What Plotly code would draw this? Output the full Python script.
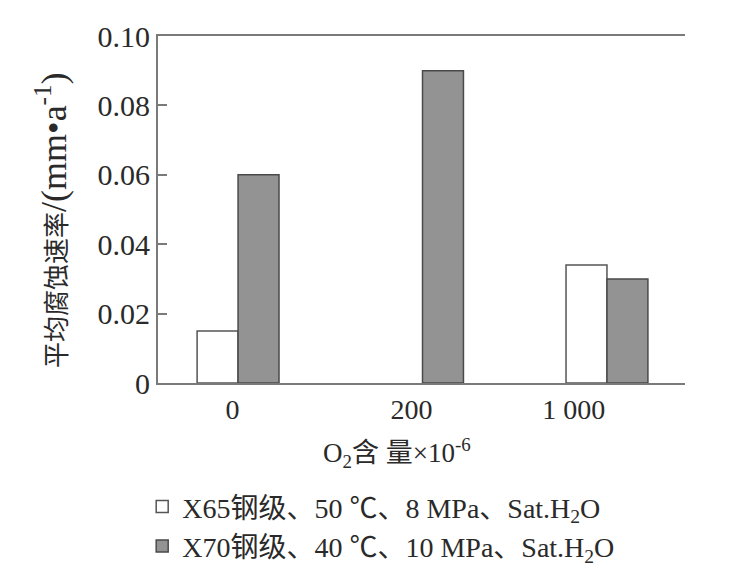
import plotly.graph_objects as go

categories = ["0", "200", "1 000"]
x65_values = [0.015, None, 0.034]
x70_values = [0.060, 0.090, 0.030]
series_names = ["X65钢级、50 ℃、8 MPa、Sat.H<sub>2</sub>O",
                "X70钢级、40 ℃、10 MPa、Sat.H<sub>2</sub>O"]
y_tick_vals = [0, 0.02, 0.04, 0.06, 0.08, 0.10]
y_tick_text = ["0", "0.02", "0.04", "0.06", "0.08", "0.10"]

x_idx = list(range(len(categories)))
FONT = "Liberation Serif, Noto Sans CJK SC, serif"
TXT = "#2a2a2a"

fig = go.Figure()
fig.add_trace(go.Bar(x=x_idx, y=x65_values, name=series_names[0],
                     marker=dict(color="white", line=dict(color="#555555", width=1.5))))
fig.add_trace(go.Bar(x=x_idx, y=x70_values, name=series_names[1],
                     marker=dict(color="#939393", line=dict(color="#4a4a4a", width=1.5))))

fig.update_layout(
    width=732, height=575,
    margin=dict(l=150, r=55, t=22, b=198),
    paper_bgcolor="white", plot_bgcolor="white",
    barmode="group", bargap=0.556, bargroupgap=0,
    font=dict(family=FONT, size=26, color=TXT),
    showlegend=True,
    legend=dict(x=-0.03, y=-0.285, xanchor="left", yanchor="top",
                font=dict(family=FONT, size=28, color=TXT),
                bgcolor="rgba(0,0,0,0)", tracegroupgap=0, itemwidth=30),
)
fig.update_xaxes(
    range=[-0.434, 2.423],
    tickmode="array", tickvals=[-0.03, 0.94, 1.82], ticktext=categories,
    showline=True, linecolor="#7a7a7a", linewidth=2, mirror=True,
    showgrid=False, zeroline=False, ticks="",
    tickfont=dict(family=FONT, size=28, color=TXT),
)
fig.update_yaxes(
    range=[0, 0.1],
    tickmode="array", tickvals=y_tick_vals, ticktext=y_tick_text,
    showline=True, linecolor="#7a7a7a", linewidth=2,
    showgrid=False, zeroline=False,
    ticks="inside", ticklen=9, tickcolor="#7a7a7a", tickwidth=1.5,
    tickfont=dict(family=FONT, size=30, color=TXT),
)
fig.add_annotation(text="O<sub>2</sub>含 量×10<sup>-6</sup>", xref="paper", yref="paper",
                   x=0.454, y=-0.203, xanchor="center", yanchor="middle",
                   showarrow=False, font=dict(family=FONT, size=27, color=TXT))
fig.add_annotation(text="平均腐蚀速率<span style='font-size:36px'>/(mm•a<sup>-1</sup>)</span>",
                   xref="paper", yref="paper",
                   x=-0.201, y=0.47, xanchor="center", yanchor="middle", textangle=-90,
                   showarrow=False, font=dict(family=FONT, size=26, color=TXT))

fig.write_html("out.html")
